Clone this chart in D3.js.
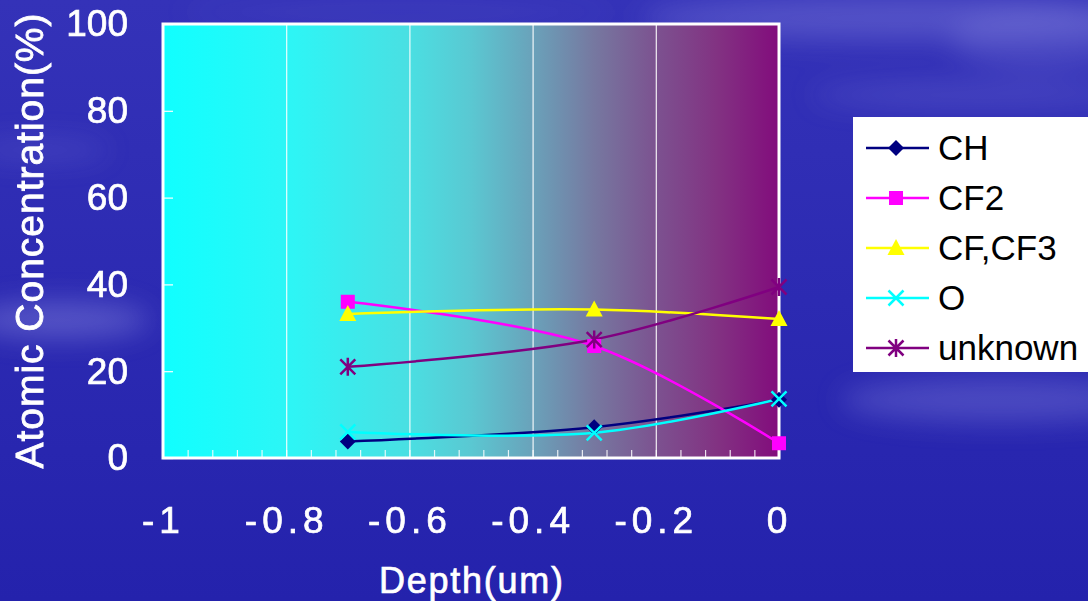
<!DOCTYPE html>
<html>
<head>
<meta charset="utf-8">
<script src="https://cdn.jsdelivr.net/npm/d3@7"></script>
<style>
  body { margin: 0; background: #2a27b0; }
  svg { display: block; font-family: "Liberation Sans", Arial, sans-serif; }
</style>
</head>
<body>
<svg id="chart" width="1088" height="601"></svg>
<script>
// data
var depth = [-0.7, -0.3, 0];
var seriesNames = ["CH", "CF2", "CF,CF3", "O", "unknown"];
var ch = [3.8, 7.1, 13.4];
var cf2 = [36, 25.8, 3.4];
var cfcf3 = [33.2, 34.2, 32];
var oxy = [6.0, 5.8, 13.6];
var unknown = [21, 27.3, 39.4];
var xTicks = [-1, -0.8, -0.6, -0.4, -0.2, 0];
var yTicks = [0, 20, 40, 60, 80, 100];

var svg = d3.select("svg#chart"),
    width = +svg.attr("width"),
    height = +svg.attr("height");

var margin = {left: 163, top: 24, right: 309, bottom: 143};
var pw = width - margin.left - margin.right,
    ph = height - margin.top - margin.bottom;

var x = d3.scaleLinear().domain([-1, 0]).range([0, pw]);
var y = d3.scaleLinear().domain([0, 100]).range([ph, 0]);

var defs = svg.append("defs");

// background: blue sky with soft streaks
var bg = defs.append("linearGradient").attr("id", "bg").attr("x1", 0).attr("y1", 0).attr("x2", 0).attr("y2", 1);
bg.append("stop").attr("offset", 0).attr("stop-color", "#3432b8");
bg.append("stop").attr("offset", 0.5).attr("stop-color", "#2c2ab2");
bg.append("stop").attr("offset", 1).attr("stop-color", "#2422ac");

defs.append("filter").attr("id", "blur").attr("x", "-50%").attr("y", "-50%").attr("width", "200%").attr("height", "200%")
  .append("feGaussianBlur").attr("stdDeviation", 14);

// plot area gradient cyan -> purple
var pg = defs.append("linearGradient").attr("id", "plotbg");
var pstops = [[0, "#10ffff"], [0.2, "#2cf6f6"], [0.4, "#4adfe2"], [0.5, "#5ac8d2"], [0.6, "#6aa2ba"],
              [0.7, "#7678a0"], [0.8, "#7c5290"], [0.9, "#823282"], [1, "#820c7c"]];
pstops.forEach(function(s) {
  pg.append("stop").attr("offset", s[0]).attr("stop-color", s[1]);
});

svg.append("rect").attr("width", width).attr("height", height).attr("fill", "url(#bg)");

var streaks = [
  {cx: 900, cy: 18, rx: 260, ry: 22, o: 0.22},
  {cx: 1040, cy: 40, rx: 90, ry: 30, o: 0.15},
  {cx: 980, cy: 95, rx: 170, ry: 14, o: 0.14},
  {cx: 1000, cy: 400, rx: 160, ry: 22, o: 0.22},
  {cx: 60, cy: 320, rx: 90, ry: 18, o: 0.28},
  {cx: 40, cy: 150, rx: 70, ry: 12, o: 0.12},
  {cx: 400, cy: 12, rx: 220, ry: 10, o: 0.08}
];
svg.append("g").attr("filter", "url(#blur)")
  .selectAll("ellipse").data(streaks).enter().append("ellipse")
  .attr("cx", function(d) { return d.cx; })
  .attr("cy", function(d) { return d.cy; })
  .attr("rx", function(d) { return d.rx; })
  .attr("ry", function(d) { return d.ry; })
  .attr("fill", "#c8c8ff")
  .attr("opacity", function(d) { return d.o; });

var g = svg.append("g").attr("transform", "translate(" + margin.left + "," + margin.top + ")");

g.append("rect").attr("width", pw).attr("height", ph).attr("fill", "url(#plotbg)");

// vertical gridlines
g.append("g").attr("class", "grid")
  .attr("transform", "translate(0," + ph + ")")
  .call(d3.axisBottom(x).tickValues([-0.8, -0.6, -0.4, -0.2]).tickSize(-ph).tickFormat(""))
  .call(function(a) {
    a.select(".domain").remove();
    a.selectAll("line").attr("stroke", "#ffffff").attr("stroke-width", 1.2).attr("opacity", 0.9);
  });

// minor ticks on bottom axis
g.append("g")
  .attr("transform", "translate(0," + ph + ")")
  .call(d3.axisBottom(x).tickValues(d3.range(0, 26).map(function(i) { return -1 + i * 0.04; })).tickSize(-8).tickFormat(""))
  .call(function(a) {
    a.select(".domain").remove();
    a.selectAll("line").attr("stroke", "#ffffff").attr("stroke-width", 1.2).attr("opacity", 0.85);
  });

// y axis
g.append("g")
  .call(d3.axisLeft(y).tickValues(yTicks).tickSize(-10).tickPadding(35))
  .call(function(a) {
    a.select(".domain").remove();
    a.selectAll("line").attr("stroke", "#ffffff").attr("stroke-width", 1.2);
    a.selectAll("text").attr("fill", "#ffffff").style("font-size", "37px")
      .attr("stroke", "#ffffff").attr("stroke-width", 0.7)
      .style("font-family", "'Liberation Sans', Arial, sans-serif");
  });

// x axis labels
g.append("g")
  .attr("transform", "translate(0," + ph + ")")
  .call(d3.axisBottom(x).tickValues(xTicks).tickSize(0).tickPadding(49)
    .tickFormat(function(d) { return String(+d.toFixed(1)); }))
  .call(function(a) {
    a.select(".domain").remove();
    a.selectAll("text").attr("fill", "#ffffff").style("font-size", "37px")
      .attr("stroke", "#ffffff").attr("stroke-width", 0.7)
      .style("letter-spacing", "5px")
      .style("font-family", "'Liberation Sans', Arial, sans-serif");
  });

// plot border
g.append("rect").attr("width", pw).attr("height", ph)
  .attr("fill", "none").attr("stroke", "#ffffff").attr("stroke-width", 3);

// series
var series = [
  {name: seriesNames[0], values: ch, color: "#000080", marker: "diamond"},
  {name: seriesNames[1], values: cf2, color: "#ff00ff", marker: "square"},
  {name: seriesNames[2], values: cfcf3, color: "#ffff00", marker: "triangle"},
  {name: seriesNames[3], values: oxy, color: "#00ffff", marker: "x"},
  {name: seriesNames[4], values: unknown, color: "#800080", marker: "star"}
];

var line = d3.line()
  .x(function(d) { return x(d[0]); })
  .y(function(d) { return y(d[1]); })
  .curve(d3.curveCatmullRom.alpha(0.5));

function drawMarker(sel, type, color) {
  if (type == "diamond") {
    sel.append("path").attr("d", "M0,-8L8,0L0,8L-8,0Z").attr("fill", color);
  } else if (type == "square") {
    sel.append("rect").attr("x", -7).attr("y", -7).attr("width", 14).attr("height", 14).attr("fill", color);
  } else if (type == "triangle") {
    sel.append("path").attr("d", "M0,-9L8.5,7L-8.5,7Z").attr("fill", color);
  } else if (type == "x") {
    sel.append("path").attr("d", "M-7.5,-7.5L7.5,7.5M-7.5,7.5L7.5,-7.5").attr("stroke", color).attr("stroke-width", 2.5).attr("fill", "none");
  } else {
    sel.append("path").attr("d", "M-7.5,-7.5L7.5,7.5M-7.5,7.5L7.5,-7.5M0,-9L0,9").attr("stroke", color).attr("stroke-width", 2.5).attr("fill", "none");
  }
}

series.forEach(function(s) {
  var pts = depth.map(function(d, i) { return [d, s.values[i]]; });
  g.append("path").datum(pts)
    .attr("d", line)
    .attr("fill", "none")
    .attr("stroke", s.color)
    .attr("stroke-width", 2.5);
});
series.forEach(function(s) {
  var pts = depth.map(function(d, i) { return [d, s.values[i]]; });
  g.selectAll(null).data(pts).enter().append("g")
    .attr("transform", function(d) { return "translate(" + x(d[0]) + "," + y(d[1]) + ")"; })
    .each(function() { drawMarker(d3.select(this), s.marker, s.color); });
});

// axis titles
svg.append("text")
  .attr("transform", "translate(43," + (margin.top + ph / 2) + ") rotate(-90)")
  .attr("text-anchor", "middle")
  .attr("fill", "#ffffff")
  .attr("stroke", "#ffffff").attr("stroke-width", 0.8)
  .attr("textLength", 455)
  .attr("lengthAdjust", "spacing")
  .style("font-size", "39px")
  .text("Atomic Concentration(%)");

svg.append("text")
  .attr("x", margin.left + pw / 2)
  .attr("y", 593)
  .attr("text-anchor", "middle")
  .attr("fill", "#ffffff")
  .attr("stroke", "#ffffff").attr("stroke-width", 0.7)
  .attr("textLength", 184)
  .attr("lengthAdjust", "spacing")
  .style("font-size", "36px")
  .text("Depth(um)");

// legend
var legend = svg.append("g").attr("transform", "translate(853,117)");
legend.append("rect").attr("width", 240).attr("height", 255).attr("fill", "#ffffff");
var item = legend.selectAll(".item").data(series).enter().append("g")
  .attr("class", "item")
  .attr("transform", function(d, i) { return "translate(0," + (31 + i * 50) + ")"; });
item.append("line").attr("x1", 13).attr("x2", 76)
  .attr("stroke", function(d) { return d.color; }).attr("stroke-width", 2.5);
item.append("g").attr("transform", "translate(43,0)")
  .each(function(d) { drawMarker(d3.select(this), d.marker, d.color); });
item.append("text").attr("x", 85).attr("dy", "0.35em")
  .attr("fill", "#000000")
  .style("font-size", "35px")
  .text(function(d) { return d.name; });
</script>
</body>
</html>
